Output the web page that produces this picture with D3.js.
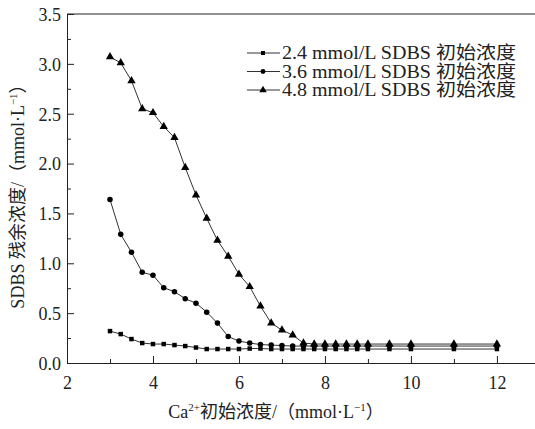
<!DOCTYPE html>
<html><head><meta charset="utf-8">
<script src="https://cdn.jsdelivr.net/npm/d3@7"></script>
<style>
html,body{margin:0;padding:0;background:#fff;}
</style></head>
<body>
<svg id="c" width="535" height="429"></svg>
<script>
const xVals = [3,3.25,3.5,3.75,4,4.25,4.5,4.75,5,5.25,5.5,5.75,6,6.25,6.5,6.75,7,7.25,7.5,7.75,8,8.25,8.5,8.75,9,9.5,10,11,12];
const ySeries24 = [0.32,0.29,0.24,0.20,0.19,0.19,0.18,0.17,0.155,0.14,0.14,0.14,0.14,0.145,0.145,0.14,0.14,0.14,0.14,0.14,0.14,0.14,0.14,0.14,0.14,0.14,0.14,0.14,0.14];
const ySeries36 = [1.64,1.29,1.11,0.91,0.88,0.755,0.715,0.645,0.60,0.51,0.40,0.265,0.22,0.20,0.185,0.18,0.175,0.17,0.17,0.17,0.17,0.17,0.17,0.17,0.17,0.17,0.17,0.17,0.17];
const ySeries48 = [3.07,3.01,2.83,2.55,2.51,2.37,2.26,1.96,1.685,1.45,1.23,1.07,0.89,0.765,0.57,0.40,0.33,0.28,0.20,0.19,0.19,0.19,0.19,0.19,0.19,0.19,0.19,0.19,0.19];
const seriesNames = ["2.4 mmol/L SDBS 初始浓度","3.6 mmol/L SDBS 初始浓度","4.8 mmol/L SDBS 初始浓度"];
const xTicks = [2,4,6,8,10,12];
const yTicks = [0,0.5,1,1.5,2,2.5,3,3.5];

// pick an installed Times-like serif
function hasFont(name){
  const c = document.createElement("canvas").getContext("2d");
  const s = "mmmmmmlllliiiWW0123";
  c.font = "40px monospace"; const a = c.measureText(s).width;
  c.font = `40px '${name}', monospace`; const b = c.measureText(s).width;
  c.font = "40px sans-serif"; const a2 = c.measureText(s).width;
  c.font = `40px '${name}', sans-serif`; const b2 = c.measureText(s).width;
  return a!==b || a2!==b2;
}
const serifPick = ["Liberation Serif","Tinos","Times New Roman","DejaVu Serif","Noto Serif"].find(hasFont) || "serif";
const FONT = `'${serifPick}','Noto Sans CJK SC',serif`;

const svg = d3.select("#c").attr("font-family",FONT);
const x = d3.scaleLinear().domain([2,13]).range([67,539.9]);
const y = d3.scaleLinear().domain([0,3.5]).range([363,14]);

svg.append("line").attr("x1",x(2)).attr("x2",x(13)).attr("y1",y(3.5)).attr("y2",y(3.5)).attr("stroke","#222").attr("stroke-width",1);
svg.append("line").attr("x1",x(13)).attr("x2",x(13)).attr("y1",y(3.5)).attr("y2",y(0)).attr("stroke","#222").attr("stroke-width",1);

const fs = 18;
const gx = svg.append("g").attr("transform",`translate(0,${y(0)})`);
gx.call(d3.axisBottom(x).tickValues(d3.range(2,13.01,1)).tickSize(-4).tickFormat(""))
  .call(g=>g.select(".domain").attr("stroke","#222"));
gx.selectAll(".tick line").attr("stroke","#222").attr("y2",d=> (d%2===0)? -7 : -4);
gx.selectAll(".tick").filter(d=>xTicks.includes(d)).append("text")
  .attr("y",26).attr("text-anchor","middle").attr("font-size",fs).attr("fill","#222").attr("font-family",FONT).text(d=>d);
const gy = svg.append("g").attr("transform",`translate(${x(2)},0)`);
gy.call(d3.axisLeft(y).tickValues(d3.range(0,3.501,0.25)).tickSize(-4).tickFormat(""))
  .call(g=>g.select(".domain").attr("stroke","#222"));
gy.selectAll(".tick line").attr("stroke","#222").attr("x2",d=> (Math.abs(d*2-Math.round(d*2))<1e-6)? 7 : 4);
gy.selectAll(".tick").filter(d=>yTicks.some(t=>Math.abs(t-d)<1e-6)).append("text")
  .attr("x",-6).attr("dy","0.35em").attr("text-anchor","end").attr("font-size",fs).attr("fill","#222").attr("font-family",FONT).text(d=>d.toFixed(1));

const series = [
  {vals:ySeries24, sym:d3.symbolSquare, size:20},
  {vals:ySeries36, sym:d3.symbolCircle, size:24},
  {vals:ySeries48, sym:d3.symbolTriangle, size:30}
];
const line = d3.line().x(d=>x(d[0])).y(d=>y(d[1]));
series.forEach(s=>{
  const pts = xVals.map((v,i)=>[v,s.vals[i]]);
  svg.append("path").attr("d",line(pts)).attr("fill","none").attr("stroke","#333").attr("stroke-width",1);
  svg.selectAll(null).data(pts).enter().append("path")
    .attr("transform",d=>`translate(${x(d[0])},${y(d[1])})`)
    .attr("d",d3.symbol().type(s.sym).size(s.size)).attr("fill","#000");
});

const lg = svg.append("g");
series.forEach((s,i)=>{
  const ly = 53 + i*18.5;
  lg.append("line").attr("x1",247).attr("x2",280).attr("y1",ly).attr("y2",ly).attr("stroke","#333");
  lg.append("path").attr("transform",`translate(263,${ly})`).attr("d",d3.symbol().type(s.sym).size(s.size*0.8)).attr("fill","#000");
  lg.append("text").attr("x",282).attr("y",ly).attr("dy","0.35em").attr("font-size",fs).attr("fill","#222")
    .attr("textLength",234).attr("lengthAdjust","spacingAndGlyphs").text(seriesNames[i]);
});

const xt = svg.append("text").attr("x",276).attr("y",418).attr("text-anchor","middle").attr("font-size",fs).attr("fill","#222");
xt.append("tspan").text("Ca");
xt.append("tspan").attr("font-size",11).attr("dy",-7).text("2+");
xt.append("tspan").attr("dy",7).text("初始浓度/（mmol·L");
xt.append("tspan").attr("font-size",11).attr("dy",-7).text("−1");
xt.append("tspan").attr("dy",7).text("）");

const yt = svg.append("text").attr("transform",`translate(24,192) rotate(-90)`).attr("text-anchor","middle").attr("font-size",fs).attr("fill","#222");
yt.append("tspan").text("SDBS 残余浓度/（mmol·L");
yt.append("tspan").attr("font-size",11).attr("dy",-7).text("−1");
yt.append("tspan").attr("dy",7).text("）");
</script>
</body></html>
